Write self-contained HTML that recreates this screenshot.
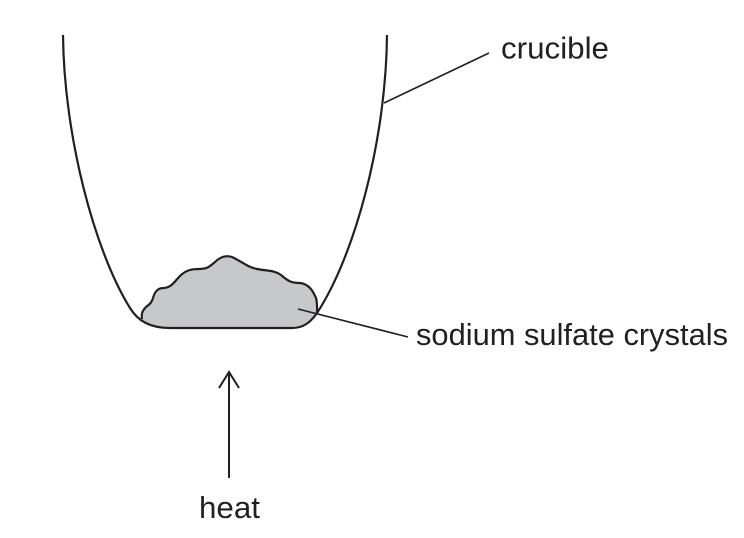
<!DOCTYPE html>
<html>
<head>
<meta charset="utf-8">
<style>
html,body{margin:0;padding:0;background:#fff;width:744px;height:538px;overflow:hidden}
svg{display:block}
text{font-family:"Liberation Sans",sans-serif;font-size:31px;fill:#231f20}
</style>
</head>
<body>
<svg width="744" height="538" viewBox="0 0 744 538" xmlns="http://www.w3.org/2000/svg">
<path d="M142 319 C141 313 143 310 146 307 C150 304 152 302 153 298 C155 291 158 288 164 288 C172 287 174 282 180 276 C186 270 192 269 199 269 C208 269 210 266 215 262 C220 257 226 255 232 257 C241 261 247 267 257 269 C267 271 274 270 281 275 C288 281 291 283 300 283 C309 284 313 291 316 298 C317.500 303 317 310 317 313 C310 323 303 328 292 328 L170 328 C156 328 148 325 142 319 Z" fill="#c7c8ca"/>
<path d="M142 319 C141 313 143 310 146 307 C150 304 152 302 153 298 C155 291 158 288 164 288 C172 287 174 282 180 276 C186 270 192 269 199 269 C208 269 210 266 215 262 C220 257 226 255 232 257 C241 261 247 267 257 269 C267 271 274 270 281 275 C288 281 291 283 300 283 C309 284 313 291 316 298 C317.500 303 317 310 317 313" fill="none" stroke="#231f20" stroke-width="2.200"/>
<path d="M63 35 C64 135 94 250 130 308 C138 321 150 328 170 328 L292 328 C303 328 310 323 317 313 C355 255 386 140 387 35" fill="none" stroke="#231f20" stroke-width="2.200"/>
<path d="M384 103 L489 53" fill="none" stroke="#231f20" stroke-width="1.600"/>
<path d="M298 309 L408 337" fill="none" stroke="#231f20" stroke-width="1.600"/>
<path d="M229 478 L229 373" fill="none" stroke="#231f20" stroke-width="2"/>
<path d="M219 388 L229 372 L239 388" fill="none" stroke="#231f20" stroke-width="2"/>
<text x="501" y="58.500" textLength="108" lengthAdjust="spacingAndGlyphs">crucible</text>
<text x="416" y="345" textLength="312" lengthAdjust="spacingAndGlyphs">sodium sulfate crystals</text>
<text x="199" y="518" textLength="61" lengthAdjust="spacingAndGlyphs">heat</text>
</svg>
</body>
</html>
